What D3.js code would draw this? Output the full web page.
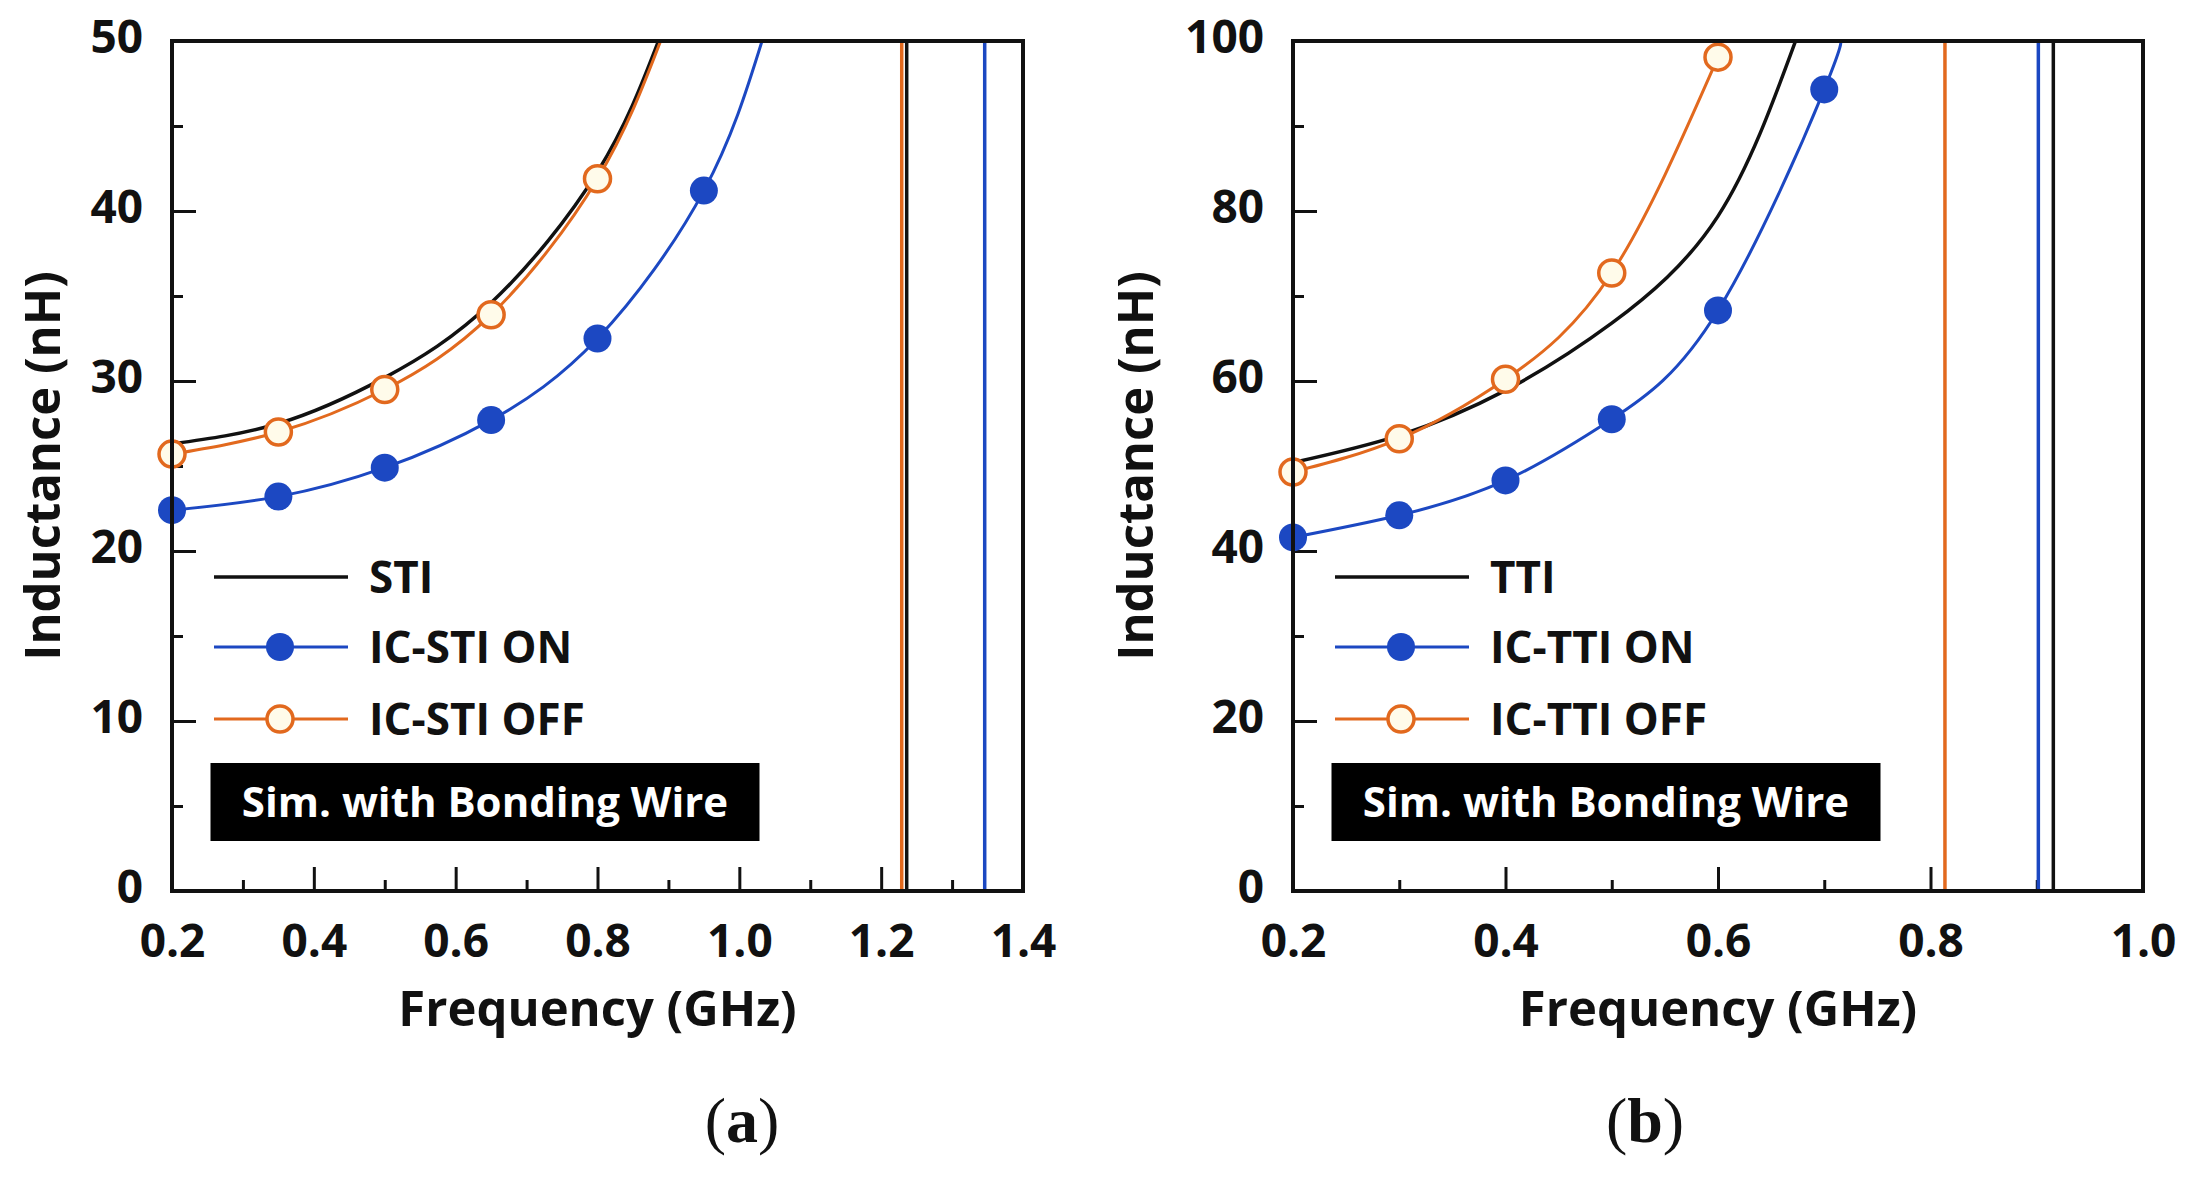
<!DOCTYPE html>
<html>
  <head>
    <meta charset="utf-8" />
    <title>Inductance vs Frequency</title>
    <script src="https://d3js.org/d3.v7.min.js"></script>
    <style>
      html, body { margin: 0; padding: 0; background: #fff; }
      svg { display: block; font-family: "Open Sans", sans-serif; }
      .tick text { font-family: "Open Sans", sans-serif; font-weight: 700; font-size: 46px; fill: #111; }
      .tick line { stroke: #111; stroke-width: 3px; }
      .axis-title { font-weight: 700; font-size: 49px; fill: #111; }
      .legend text { font-weight: 700; font-size: 44px; fill: #111; }
    </style>
  </head>
  <body>
    <svg id="chart"></svg>
    <script>
      // ---- data ----
      // (a) STI panel (last point = where the curve leaves the top of the plot)
      const stiFreq    = [0.2, 0.35, 0.5, 0.65, 0.8, 0.886];
      const stiL       = [26.3, 27.5, 30.2, 34.6, 42.3, 50];
      const stiOnFreq  = [0.2, 0.35, 0.5, 0.65, 0.8, 0.95, 1.032];
      const stiOnL     = [22.4, 23.2, 24.9, 27.7, 32.5, 41.2, 50];
      const stiOffFreq = [0.2, 0.35, 0.5, 0.65, 0.8, 0.889];
      const stiOffL    = [25.7, 27.0, 29.5, 33.9, 41.9, 50];
      const stiMarkerFreq = [0.2, 0.35, 0.5, 0.65, 0.8, 0.95];
      // self-resonance (vertical jumps): STI, ON, OFF
      const stiResFreq = [1.236, 1.346, 1.229];
      const stiLegend  = ['STI', 'IC-STI ON', 'IC-STI OFF'];
      const stiXTicks  = [0.2, 0.4, 0.6, 0.8, 1.0, 1.2, 1.4];
      const stiXMinor  = [0.3, 0.5, 0.7, 0.9, 1.1, 1.3];
      const stiYTicks  = [0, 10, 20, 30, 40, 50];
      const stiYMinor  = [5, 15, 25, 35, 45];

      // (b) TTI panel
      const ttiFreq    = [0.2, 0.3, 0.4, 0.5, 0.6, 0.673];
      const ttiL       = [50.4, 53.6, 58.9, 66.8, 79.4, 100];
      const ttiOnFreq  = [0.2, 0.3, 0.4, 0.5, 0.6, 0.7, 0.713];
      const ttiOnL     = [41.6, 44.2, 48.3, 55.5, 68.3, 94.3, 100];
      const ttiOffFreq = [0.2, 0.3, 0.4, 0.5, 0.6];
      const ttiOffL    = [49.3, 53.2, 60.2, 72.7, 98.1];
      const ttiMarkerFreq = [0.2, 0.3, 0.4, 0.5, 0.6, 0.7];
      const ttiResFreq = [0.9156, 0.9015, 0.8136];
      const ttiLegend  = ['TTI', 'IC-TTI ON', 'IC-TTI OFF'];
      const ttiXTicks  = [0.2, 0.4, 0.6, 0.8, 1.0];
      const ttiXMinor  = [0.3, 0.5, 0.7, 0.9];
      const ttiYTicks  = [0, 20, 40, 60, 80, 100];
      const ttiYMinor  = [10, 30, 50, 70, 90];

      const boxText = 'Sim. with Bonding Wire';

      // colours: reference, ON (filled), OFF (hollow)
      const colBlack = '#111111';
      const colBlue = '#1c48c2';
      const colOrange = '#e2691e';
      const hollowFill = '#fffbea';

      const width = 2190, height = 1177;
      const svg = d3.select('#chart').attr('width', width).attr('height', height);
      svg.append('rect').attr('width', width).attr('height', height).attr('fill', '#fff');

      const zip = (fs, ls) => fs.map((f, i) => ({ f: f, L: ls[i] }));

      // strip the font attrs d3.axis puts on its group so CSS wins
      const clean = a => a.attr('font-family', null).attr('font-size', null)
                          .call(s => s.select('.domain').remove());

      function drawPanel(cfg) {
        const top = 41, bottom = 891;
        const x = d3.scaleLinear().domain(cfg.xDomain).range([cfg.left, cfg.right]);
        const y = d3.scaleLinear().domain(cfg.yDomain).range([bottom, top]);
        const g = svg.append('g');

        const clipId = 'clip-' + cfg.id;
        svg.append('clipPath').attr('id', clipId)
          .append('rect')
          .attr('x', cfg.left).attr('y', top)
          .attr('width', cfg.right - cfg.left).attr('height', bottom - top);

        // ticks (inward), minor first
        const fmt = d3.format('.1f');
        g.append('g').attr('transform', `translate(0,${bottom})`)
          .call(d3.axisBottom(x).tickValues(cfg.xMinor).tickSize(-11).tickFormat(''))
          .call(clean);
        g.append('g').attr('transform', `translate(0,${bottom})`)
          .call(d3.axisBottom(x).tickValues(cfg.xTicks).tickSize(-24).tickPadding(33).tickFormat(fmt))
          .call(clean);
        g.append('g').attr('transform', `translate(${cfg.left},0)`)
          .call(d3.axisLeft(y).tickValues(cfg.yMinor).tickSize(-11).tickFormat(''))
          .call(clean);
        g.append('g').attr('transform', `translate(${cfg.left},0)`)
          .call(d3.axisLeft(y).tickValues(cfg.yTicks).tickSize(-24).tickPadding(29))
          .call(clean)
          .call(a => a.selectAll('text').attr('dy', '0.26em'));

        const plot = g.append('g').attr('clip-path', `url(#${clipId})`);

        // resonance jumps
        cfg.res.forEach((f, i) => {
          plot.append('line')
            .attr('x1', x(f)).attr('x2', x(f))
            .attr('y1', y(cfg.yDomain[1])).attr('y2', y(cfg.yDomain[0]))
            .attr('stroke', cfg.series[i].color)
            .attr('stroke-width', 3.5);
        });

        const line = d3.line()
          .x(d => x(d.f)).y(d => y(d.L))
          .curve(d3.curveNatural);

        // draw black, blue, orange
        [0, 1, 2].forEach(i => {
          const s = cfg.series[i];
          plot.append('path')
            .attr('d', line(s.pts))
            .attr('fill', 'none')
            .attr('stroke', s.color)
            .attr('stroke-width', i === 0 ? 3.5 : 3);
        });
        [1, 2].forEach(i => {
          const s = cfg.series[i];
          const pts = s.pts.filter(d => cfg.markers.includes(d.f));
          g.selectAll(null).data(pts).enter().append('circle')
            .attr('cx', d => x(d.f)).attr('cy', d => y(d.L))
            .attr('r', s.hollow ? 13 : 14)
            .attr('fill', s.hollow ? hollowFill : s.color)
            .attr('stroke', s.color)
            .attr('stroke-width', s.hollow ? 3.5 : 0);
        });

        // frame
        g.append('rect')
          .attr('x', cfg.left).attr('y', top)
          .attr('width', cfg.right - cfg.left).attr('height', bottom - top)
          .attr('fill', 'none').attr('stroke', colBlack).attr('stroke-width', 4);

        // legend
        const lg = g.append('g').attr('class', 'legend');
        const rows = [577, 647, 719];
        cfg.series.forEach((s, i) => {
          lg.append('line')
            .attr('x1', cfg.left + 42).attr('x2', cfg.left + 176)
            .attr('y1', rows[i]).attr('y2', rows[i])
            .attr('stroke', s.color).attr('stroke-width', i === 0 ? 3.5 : 3);
          if (i > 0) {
            lg.append('circle')
              .attr('cx', cfg.left + 108).attr('cy', rows[i])
              .attr('r', s.hollow ? 13 : 14)
              .attr('fill', s.hollow ? hollowFill : s.color)
              .attr('stroke', s.color)
              .attr('stroke-width', s.hollow ? 3.5 : 0);
          }
          lg.append('text')
            .attr('x', cfg.left + 197).attr('y', rows[i] + 16)
            .text(cfg.legend[i]);
        });

        // black label box
        g.append('rect')
          .attr('x', cfg.left + 38.5).attr('y', 763)
          .attr('width', 549).attr('height', 78)
          .attr('fill', '#000');
        g.append('text')
          .attr('x', cfg.left + 38.5 + 274.5).attr('y', 817)
          .attr('text-anchor', 'middle')
          .attr('fill', '#fff')
          .attr('font-weight', 700).attr('font-size', 42)
          .text(boxText);

        // axis titles
        g.append('text').attr('class', 'axis-title')
          .attr('x', (cfg.left + cfg.right) / 2).attr('y', 1026)
          .attr('text-anchor', 'middle')
          .text('Frequency (GHz)');
        g.append('text').attr('class', 'axis-title')
          .attr('transform', `translate(${cfg.yTitleX},${(top + bottom) / 2}) rotate(-90)`)
          .attr('text-anchor', 'middle')
          .text('Inductance (nH)');

        // panel caption
        const cap = g.append('text')
          .attr('x', cfg.capX).attr('y', 1142)
          .attr('text-anchor', 'middle')
          .attr('font-family', '"Liberation Serif", "DejaVu Serif", serif')
          .attr('font-size', 64).attr('fill', '#111');
        cap.append('tspan').text('(');
        cap.append('tspan').attr('font-weight', 700).text(cfg.caption);
        cap.append('tspan').text(')');
      }

      drawPanel({
        id: 'a', left: 172, right: 1023,
        xDomain: [0.2, 1.4], yDomain: [0, 50],
        xTicks: stiXTicks, xMinor: stiXMinor, yTicks: stiYTicks, yMinor: stiYMinor,
        series: [
          { pts: zip(stiFreq, stiL), color: colBlack },
          { pts: zip(stiOnFreq, stiOnL), color: colBlue },
          { pts: zip(stiOffFreq, stiOffL), color: colOrange, hollow: true }
        ],
        markers: stiMarkerFreq, res: stiResFreq, legend: stiLegend,
        yTitleX: 60, capX: 742, caption: 'a'
      });

      drawPanel({
        id: 'b', left: 1293, right: 2143,
        xDomain: [0.2, 1.0], yDomain: [0, 100],
        xTicks: ttiXTicks, xMinor: ttiXMinor, yTicks: ttiYTicks, yMinor: ttiYMinor,
        series: [
          { pts: zip(ttiFreq, ttiL), color: colBlack },
          { pts: zip(ttiOnFreq, ttiOnL), color: colBlue },
          { pts: zip(ttiOffFreq, ttiOffL), color: colOrange, hollow: true }
        ],
        markers: ttiMarkerFreq, res: ttiResFreq, legend: ttiLegend,
        yTitleX: 1153, capX: 1645, caption: 'b'
      });
    </script>
  </body>
</html>
